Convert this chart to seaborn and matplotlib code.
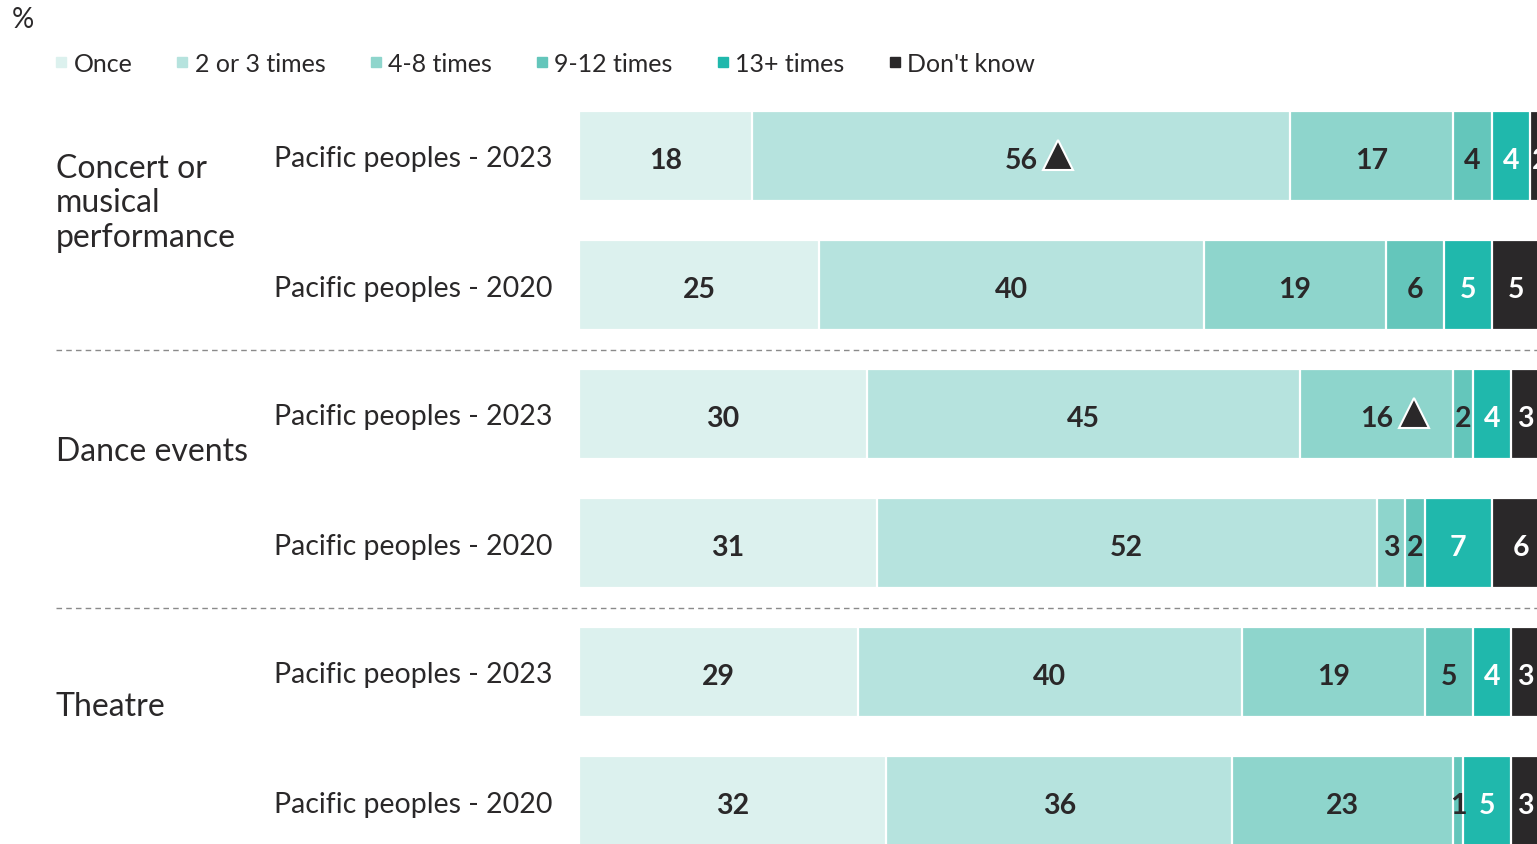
import matplotlib
matplotlib.use("Agg")
import matplotlib.pyplot as plt
import matplotlib.transforms as mtransforms
from matplotlib.lines import Line2D
import numpy as np
import seaborn as sns

# ---- data -------------------------------------------------------------
series = ["Once", "2 or 3 times", "4-8 times", "9-12 times", "13+ times", "Don't know"]
colors = ["#DCF1EE", "#B6E3DE", "#8ED5CC", "#64C6BB", "#20B8AC", "#2A2829"]
label_colors = ["#2A2829", "#2A2829", "#2A2829", "#2A2829", "white", "white"]

row_labels = ["Pacific peoples - 2023", "Pacific peoples - 2020",
              "Pacific peoples - 2023", "Pacific peoples - 2020",
              "Pacific peoples - 2023", "Pacific peoples - 2020"]
groups = ["Concert or\nmusical\nperformance", "Dance events", "Theatre"]

once      = [18, 25, 30, 31, 29, 32]
two_three = [56, 40, 45, 52, 40, 36]
four_8    = [17, 19, 16, 3, 19, 23]
nine_12   = [4, 6, 2, 2, 5, 1]
thirteen  = [4, 5, 4, 7, 4, 5]
dont_know = [2, 5, 3, 6, 3, 3]

# significant-increase markers (row, series index)
sig_up = [(0, 1), (2, 2)]

# ---- figure -----------------------------------------------------------
sns.set_theme(style="white")
plt.rcParams["font.family"] = ["Lato", "DejaVu Sans"]
text_c = "#2A2829"

W, H = 1537, 845
fig = plt.figure(figsize=(W / 100, H / 100), dpi=100)
ax = fig.add_axes([579 / W, 0, 1 - 579 / W, 1])

values = np.array([once, two_three, four_8, nine_12, thirteen, dont_know], dtype=float).T
cum = np.cumsum(values, axis=1)
row_ids = [str(i) for i in range(len(row_labels))]

# stacked bars: draw cumulative totals from the outermost segment inwards
for j in range(len(series) - 1, -1, -1):
    sns.barplot(x=cum[:, j], y=row_ids, order=row_ids, orient="h",
                color=colors[j], saturation=1, width=0.70,
                edgecolor="white", linewidth=1.6, errorbar=None, ax=ax)

# value labels
for i in range(len(row_labels)):
    for j in range(len(series)):
        left = cum[i, j] - values[i, j]
        xc = left + values[i, j] / 2
        ax.text(xc, i + 0.03, f"{int(values[i, j])}", ha="center", va="center",
                fontsize=20.5, fontweight="bold", color=label_colors[j], clip_on=True)
        if (i, j) in sig_up:
            off = mtransforms.ScaledTranslation(0.37, 0, fig.dpi_scale_trans)
            ax.plot([xc], [i - 0.01], marker="^", ms=22, mfc=text_c, mec="white",
                    mew=1.5, ls="", transform=ax.transData + off, clip_on=False)

ax.set_xlim(0, 99.7)
ax.set_ylim((H - 157) / 129, -157 / 129)
ax.set_yticks(range(len(row_labels)))
ax.set_yticklabels(row_labels, fontsize=20.5, color=text_c)
ax.tick_params(axis="y", length=0, pad=19)
ax.set_xticks([])
ax.set_xlabel("")
ax.set_ylabel("")
for s in ax.spines.values():
    s.set_visible(False)

# group separators
sep_tr = mtransforms.blended_transform_factory(fig.transFigure, ax.transData)
for y in [1.5, 3.5]:
    ax.add_line(Line2D([56 / W, 1], [y, y], transform=sep_tr, color="#8A8A8A",
                       lw=1.0, ls=(0, (4, 3)), clip_on=False))

# group labels
group_y = [0.36, 2.29, 4.26]
for g, y in zip(groups, group_y):
    ax.text(56 / W, y, g, transform=sep_tr, ha="left", va="center",
            fontsize=23, color=text_c, linespacing=1.2)

# legend and unit
handles = [Line2D([], [], marker="s", ls="", ms=7, color=c) for c in colors]
fig.legend(handles, series, loc="center left", bbox_to_anchor=(56 / W, 1 - 64 / H),
           ncol=6, frameon=False, fontsize=18, handlelength=0.4,
           handletextpad=0.3, columnspacing=1.8, labelcolor=text_c,
           borderaxespad=0, borderpad=0)
fig.text(12 / W, 1 - 20 / H, "%", fontsize=20, color=text_c, ha="left",
         va="center")

fig.savefig("out.png", dpi=100)
